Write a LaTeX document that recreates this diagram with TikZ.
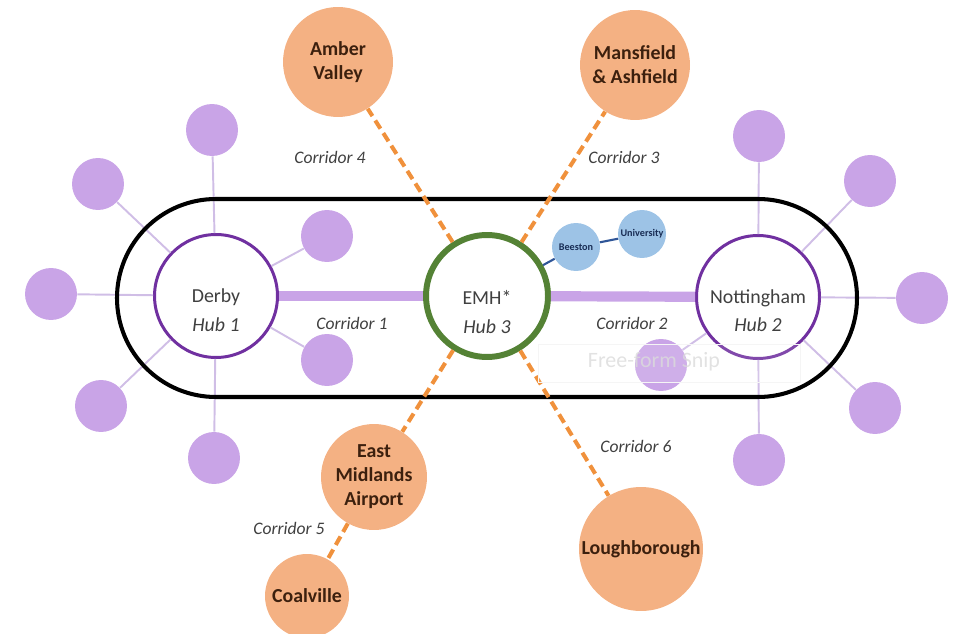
\documentclass[tikz,border=0pt]{standalone}
\usepackage{fontspec}
\setmainfont{Carlito}
\usepackage{tikz}

\definecolor{satpurple}{RGB}{201,164,231}
\definecolor{satline}{RGB}{208,190,230}
\definecolor{hubpurple}{RGB}{112,48,160}
\definecolor{emhgreen}{RGB}{84,130,53}
\definecolor{townorange}{RGB}{244,177,131}
\definecolor{dashorange}{RGB}{240,145,60}
\definecolor{towntext}{RGB}{60,32,14}
\definecolor{beestonblue}{RGB}{157,195,230}
\definecolor{beestonline}{RGB}{47,85,151}
\definecolor{beestontext}{RGB}{25,45,85}
\definecolor{labelgray}{RGB}{64,64,64}

\begin{document}
\begin{tikzpicture}[x=0.02cm,y=-0.02cm,
    sat/.style={circle, fill=satpurple, minimum size=1.04cm, inner sep=0pt},
    satlink/.style={satline, line width=1.1pt},
    hub/.style={circle, draw=hubpurple, line width=1.7pt, fill=white, minimum size=2.46cm, inner sep=0pt},
    hubtext/.style={text=labelgray, font=\fontsize{11.3}{13.5}\selectfont, inner sep=0pt},
    town/.style={circle, fill=townorange, text=towntext, align=center, inner sep=0pt,
        font=\fontsize{11.3}{13.6}\selectfont\bfseries},
    corridor/.style={text=labelgray, font=\fontsize{10}{12}\selectfont\itshape, inner sep=0pt},
    spoke/.style={dashorange, line width=2.3pt, dash pattern=on 5.5pt off 3pt},
    trunk/.style={satpurple, line width=5.8pt},
    halt/.style={circle, fill=beestonblue, minimum size=0.96cm, inner sep=0pt, text=beestontext,
        font=\fontsize{5.8}{7}\selectfont\bfseries}]

    \useasboundingbox (0,0) rectangle (959,634);

    % hubs
    \node [hub] (D) at (216,296) {};
    \node [hub] (N) at (758,297) {};
    \node [hub, draw=emhgreen, line width=3.4pt, minimum size=2.44cm] (E) at (487,296) {};

    \node [hubtext] (Dname) at (216,297) {Derby};
    \node [hubtext] (Dhub) at (216,325) {\itshape Hub 1};
    \node [hubtext] (Nname) at (758,298) {Nottingham};
    \node [hubtext] (Nhub) at (758,325) {\itshape Hub 2};
    \node [hubtext] (Ename) at (487,297) {EMH*};
    \node [hubtext] (Ehub) at (487,327) {\itshape Hub 3};

    % satellites round Derby
    \node [sat] (d1) at (212,130) {};
    \node [sat] (d2) at (98,184) {};
    \node [sat] (d3) at (51,294) {};
    \node [sat] (d4) at (101,406) {};
    \node [sat] (d5) at (214,458) {};
    \node [sat] (d6) at (327,236) {};
    \node [sat] (d7) at (327,360) {};

    % satellites round Nottingham
    \node [sat] (n1) at (759,136) {};
    \node [sat] (n2) at (870,181) {};
    \node [sat] (n3) at (922,298) {};
    \node [sat] (n4) at (875,408) {};
    \node [sat] (n5) at (759,460) {};
    \node [sat] (n6) at (661,365) {};

    \draw[satlink] (D) -- (d1);
    \draw[satlink] (D) -- (d2);
    \draw[satlink] (D) -- (d3);
    \draw[satlink] (D) -- (d4);
    \draw[satlink] (D) -- (d5);
    \draw[satlink] (D) -- (d6);
    \draw[satlink] (D) -- (d7);
    \draw[satlink] (N) -- (n1);
    \draw[satlink] (N) -- (n2);
    \draw[satlink] (N) -- (n3);
    \draw[satlink] (N) -- (n4);
    \draw[satlink] (N) -- (n5);
    \draw[satlink] (N) -- (n6);

    % the ring round the three hubs
    \draw[black, line width=2.3pt, rounded corners=1.98cm] (117,199) rectangle (857,397);

    % corridors 1 and 2
    \draw[trunk] (D) -- (E);
    \draw[trunk] (E) -- (N);

    % Beeston and University
    \node [halt] (B) at (576,247) {Beeston};
    \node [halt] (U) at (642,234) {University};
    \draw[beestonline, line width=1.2pt] (E) -- (B);
    \draw[beestonline, line width=1.2pt] (B) -- (U);

    % towns on the spokes
    \node [town, minimum size=2.2cm] (AV) at (338,62) {Amber\\Valley};
    \node [town, minimum size=2.2cm] (MA) at (635,65) {Mansfield\\\& Ashfield};
    \node [town, minimum size=2.12cm] (EMA) at (374,477) {East\\Midlands\\Airport};
    \node [town, minimum size=1.68cm] (C) at (307,596) {Coalville};
    \node [town, minimum size=2.48cm] (L) at (641,549) {Loughborough};

    \draw[spoke] (E) -- (AV);
    \draw[spoke] (E) -- (MA);
    \draw[spoke] (E) -- (EMA);
    \draw[spoke] (EMA) -- (C);
    \draw[spoke] (E) -- (L);

    \node [corridor] (c1) at (352,323) {Corridor 1};
    \node [corridor] (c2) at (632,323) {Corridor 2};
    \node [corridor] (c3) at (624,157) {Corridor 3};
    \node [corridor] (c4) at (330,157) {Corridor 4};
    \node [corridor] (c5) at (289,528) {Corridor 5};
    \node [corridor] (c6) at (636,446) {Corridor 6};

    % faint snip overlay
    \node [draw=gray!8, fill=white, fill opacity=0.12, minimum width=5.24cm, minimum height=0.76cm] (snipbox) at (669,363) {};
    \node [text=gray!28, text opacity=0.8, font=\fontsize{12.5}{14}\selectfont, inner sep=0pt] (snip) at (654,362) {Free-form Snip};

\end{tikzpicture}
\end{document}
